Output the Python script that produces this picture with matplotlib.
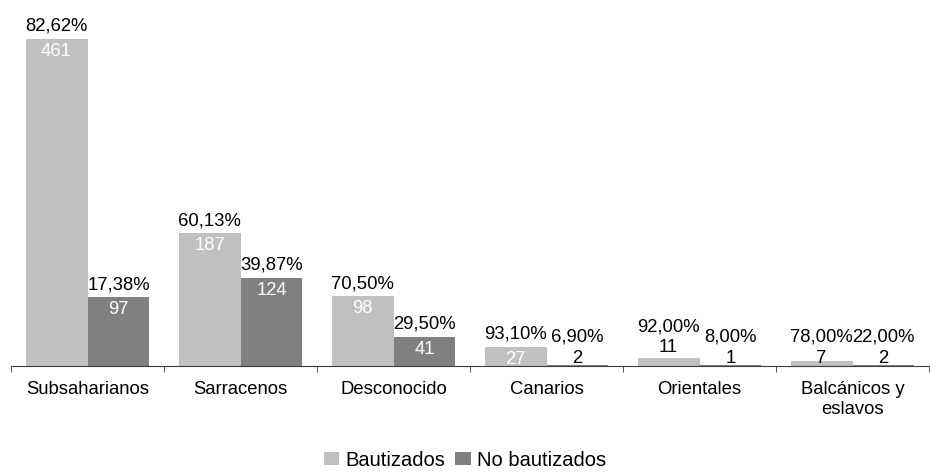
import matplotlib
matplotlib.use("Agg")
import matplotlib.pyplot as plt
import numpy as np

plt.rcParams['font.family'] = ['Liberation Sans', 'DejaVu Sans']

categorias = ["Subsaharianos", "Sarracenos", "Desconocido", "Canarios",
              "Orientales", "Balcánicos y\neslavos"]
bautizados = [461, 187, 98, 27, 11, 7]
no_bautizados = [97, 124, 41, 2, 1, 2]
pct_bautizados = ["82,62%", "60,13%", "70,50%", "93,10%", "92,00%", "78,00%"]
pct_no_bautizados = ["17,38%", "39,87%", "29,50%", "6,90%", "8,00%", "22,00%"]

COLOR_CLARO = "#c0c0c0"
COLOR_OSCURO = "#808080"
FS = 13.3
PX = 72.0 / 100  # puntos por pixel a dpi 100

fig = plt.figure(figsize=(9.30, 4.74), dpi=100)
ax = fig.add_axes([11 / 930, 108 / 474, 918 / 930, 355 / 474])

x = np.arange(len(categorias))
w = 0.405
b1 = ax.bar(x - w / 2, bautizados, w, color=COLOR_CLARO, label="Bautizados")
b2 = ax.bar(x + w / 2, no_bautizados, w, color=COLOR_OSCURO, label="No bautizados")

ax.set_xlim(-0.5, len(categorias) - 0.5)
ax.set_ylim(0, 500)


def etiquetar(barras, valores, pcts):
    # pixeles por unidad de datos
    ppu = ax.get_window_extent().height / 500.0
    for rect, v, p in zip(barras, valores, pcts):
        cx = rect.get_x() + rect.get_width() / 2
        h = v * ppu
        dentro = h > 17
        if dentro:
            base_num = h - 17
        elif h > 7:
            base_num = h + 6
        else:
            base_num = 3
        color = "white" if dentro else "black"
        ax.annotate(str(v), (cx, 0), xytext=(0, base_num * PX),
                    textcoords="offset points", ha="center", va="baseline",
                    fontsize=FS, color=color)
        tope = max(h, base_num + 13)
        ax.annotate(p, (cx, 0), xytext=(0, (tope + 8) * PX),
                    textcoords="offset points", ha="center", va="baseline",
                    fontsize=FS, color="black")


etiquetar(b1, bautizados, pct_bautizados)
etiquetar(b2, no_bautizados, pct_no_bautizados)

for s in ["top", "right", "left"]:
    ax.spines[s].set_visible(False)
ax.spines["bottom"].set_color("#3c3c3c")
ax.set_yticks([])

ax.set_xticks(x)
ax.set_xticklabels(categorias, fontsize=FS)
ax.set_xticks(np.arange(-0.5, len(categorias)), minor=True)
ax.tick_params(axis="x", which="major", length=0, pad=11)
ax.tick_params(axis="x", which="minor", length=4, direction="out", color="#3c3c3c")

fig.legend(handles=[b1, b2], loc="lower center", bbox_to_anchor=(0.5, -0.012),
           ncol=2, frameon=False, fontsize=14.5, handlelength=0.75,
           handleheight=0.55, handletextpad=0.3, columnspacing=0.5,
           borderpad=0.0)

fig.savefig("out.png", dpi=100)
